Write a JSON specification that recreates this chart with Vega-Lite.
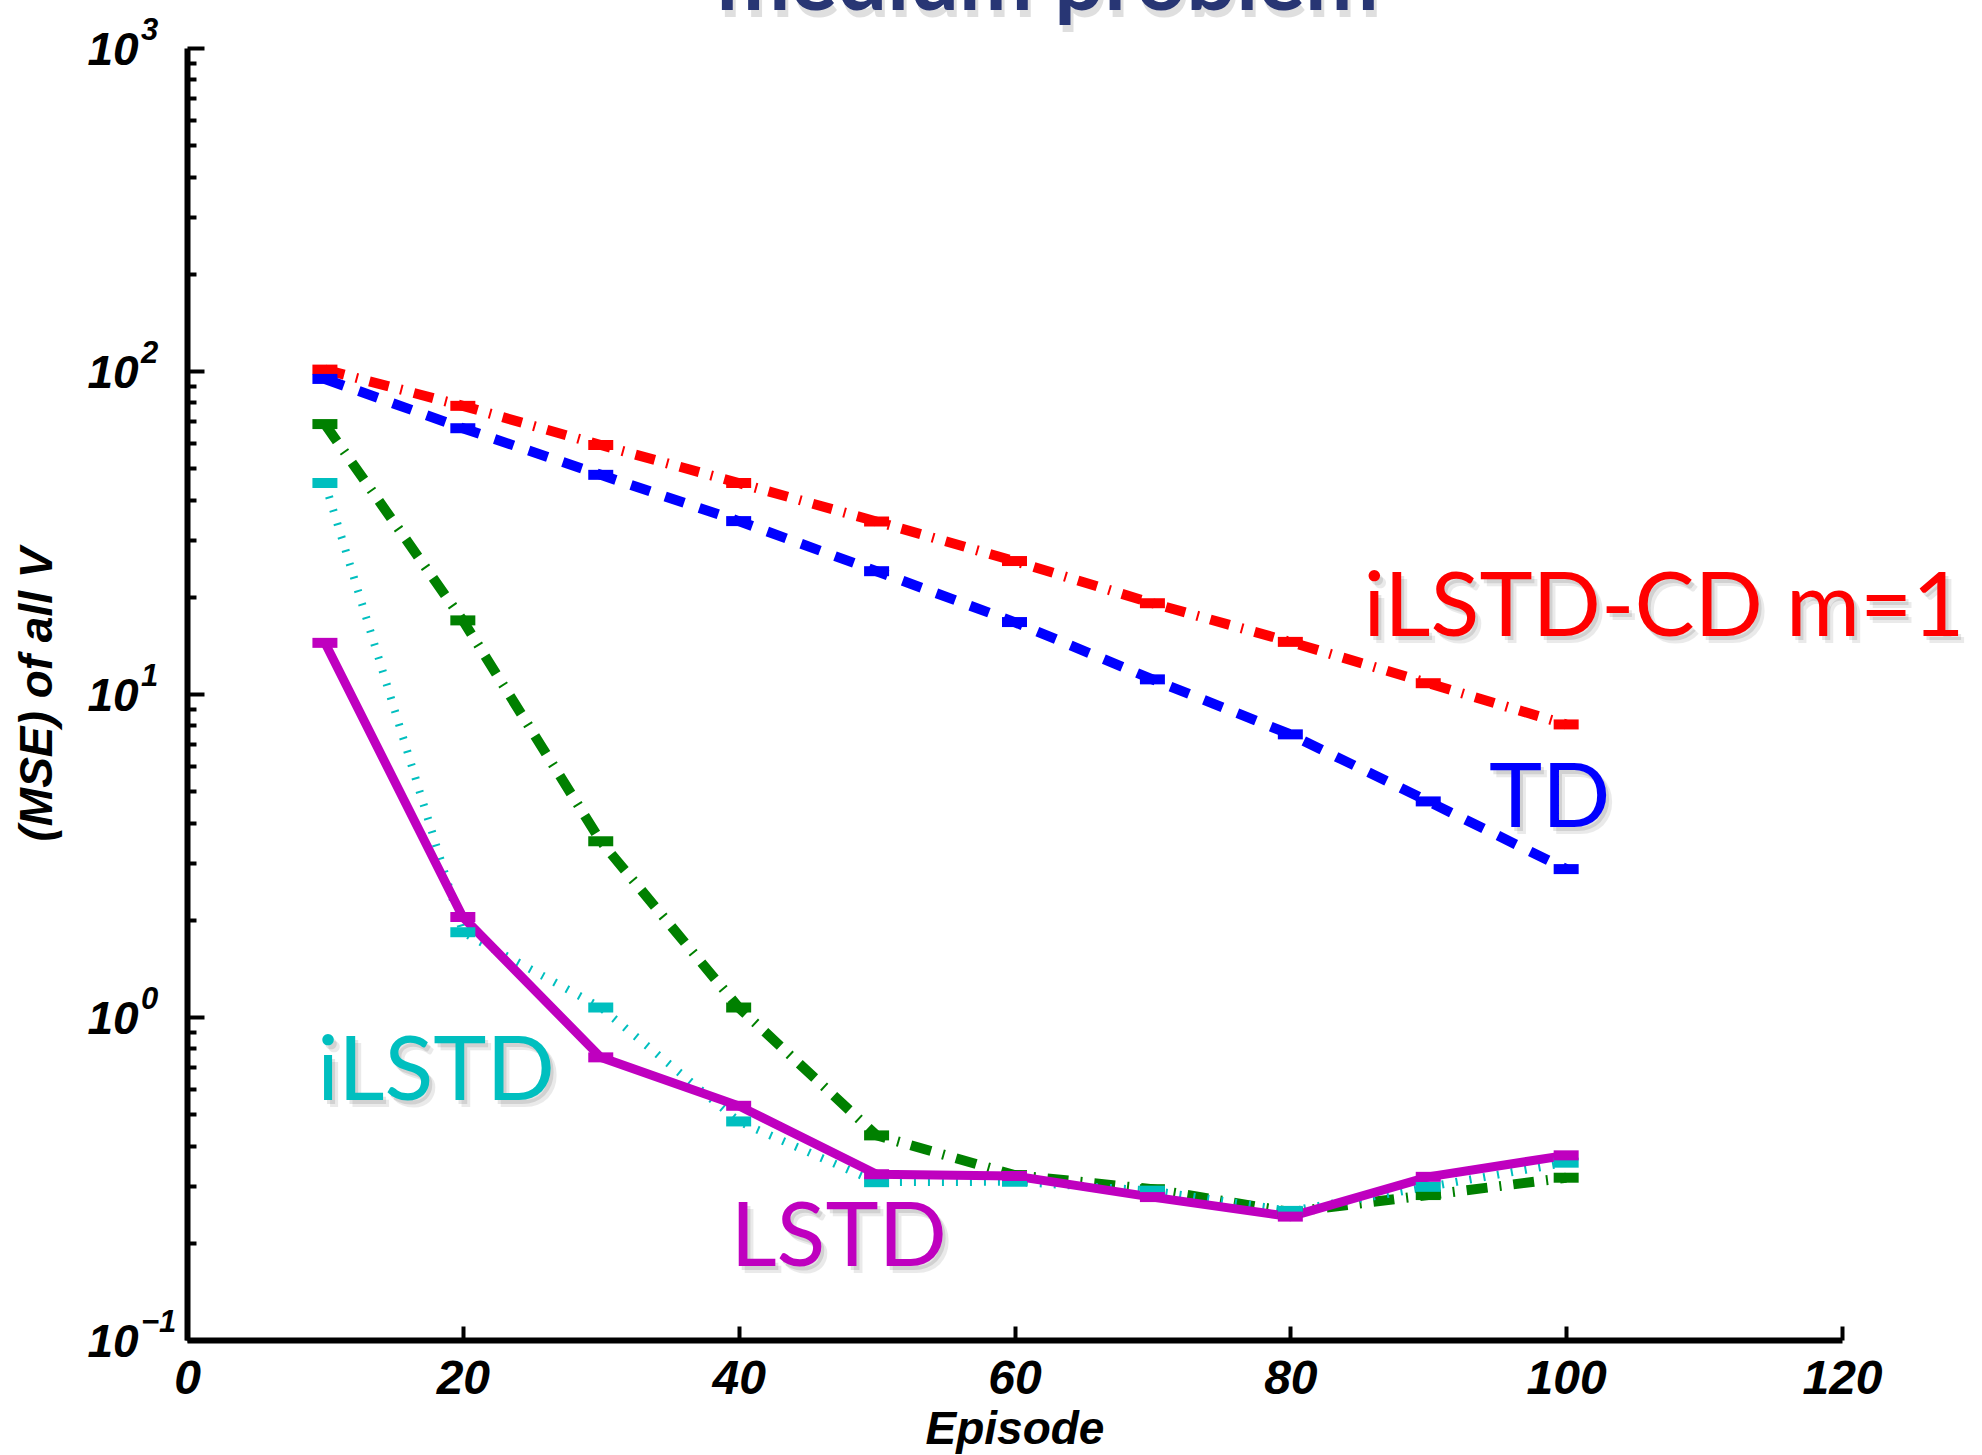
{
  "$schema": "https://vega.github.io/schema/vega-lite/v6.json",
  "width": 1655,
  "height": 1292,
  "autosize": {"type": "none"},
  "padding": {"left": 187, "top": 48, "right": 140, "bottom": 115},
  "background": "white",
  "config": {"view": {"stroke": null}},
  "datasets": {
    "series": [
      {"method": "iLSTD-CD m=1", "episode": 10, "mse": 101},
      {"method": "iLSTD-CD m=1", "episode": 20, "mse": 78},
      {"method": "iLSTD-CD m=1", "episode": 30, "mse": 59},
      {"method": "iLSTD-CD m=1", "episode": 40, "mse": 45},
      {"method": "iLSTD-CD m=1", "episode": 50, "mse": 34.2},
      {"method": "iLSTD-CD m=1", "episode": 60, "mse": 25.8},
      {"method": "iLSTD-CD m=1", "episode": 70, "mse": 19.1},
      {"method": "iLSTD-CD m=1", "episode": 80, "mse": 14.5},
      {"method": "iLSTD-CD m=1", "episode": 90, "mse": 10.8},
      {"method": "iLSTD-CD m=1", "episode": 100, "mse": 8.05},
      {"method": "TD", "episode": 10, "mse": 94.5},
      {"method": "TD", "episode": 20, "mse": 66.5},
      {"method": "TD", "episode": 30, "mse": 47.7},
      {"method": "TD", "episode": 40, "mse": 34.3},
      {"method": "TD", "episode": 50, "mse": 24.0},
      {"method": "TD", "episode": 60, "mse": 16.7},
      {"method": "TD", "episode": 70, "mse": 11.1},
      {"method": "TD", "episode": 80, "mse": 7.5},
      {"method": "TD", "episode": 90, "mse": 4.65},
      {"method": "TD", "episode": 100, "mse": 2.87},
      {"method": "unlabelled", "episode": 10, "mse": 68.5},
      {"method": "unlabelled", "episode": 20, "mse": 16.9},
      {"method": "unlabelled", "episode": 30, "mse": 3.5},
      {"method": "unlabelled", "episode": 40, "mse": 1.07},
      {"method": "unlabelled", "episode": 50, "mse": 0.43},
      {"method": "unlabelled", "episode": 60, "mse": 0.324},
      {"method": "unlabelled", "episode": 70, "mse": 0.293},
      {"method": "unlabelled", "episode": 80, "mse": 0.249},
      {"method": "unlabelled", "episode": 90, "mse": 0.281},
      {"method": "unlabelled", "episode": 100, "mse": 0.318},
      {"method": "iLSTD", "episode": 10, "mse": 45},
      {"method": "iLSTD", "episode": 20, "mse": 1.83},
      {"method": "iLSTD", "episode": 30, "mse": 1.07},
      {"method": "iLSTD", "episode": 40, "mse": 0.475},
      {"method": "iLSTD", "episode": 50, "mse": 0.308},
      {"method": "iLSTD", "episode": 60, "mse": 0.309},
      {"method": "iLSTD", "episode": 70, "mse": 0.29},
      {"method": "iLSTD", "episode": 80, "mse": 0.251},
      {"method": "iLSTD", "episode": 90, "mse": 0.298},
      {"method": "iLSTD", "episode": 100, "mse": 0.354},
      {"method": "LSTD", "episode": 10, "mse": 14.4},
      {"method": "LSTD", "episode": 20, "mse": 2.04},
      {"method": "LSTD", "episode": 30, "mse": 0.75},
      {"method": "LSTD", "episode": 40, "mse": 0.531},
      {"method": "LSTD", "episode": 50, "mse": 0.326},
      {"method": "LSTD", "episode": 60, "mse": 0.322},
      {"method": "LSTD", "episode": 70, "mse": 0.277},
      {"method": "LSTD", "episode": 80, "mse": 0.241},
      {"method": "LSTD", "episode": 90, "mse": 0.32},
      {"method": "LSTD", "episode": 100, "mse": 0.373}
    ],
    "labels": [
      {"method": "iLSTD-CD m=1", "episode": 85.3, "mse": 15.1},
      {"method": "TD", "episode": 94.4, "mse": 3.87},
      {"method": "iLSTD", "episode": 9.45, "mse": 0.553},
      {"method": "LSTD", "episode": 39.4, "mse": 0.1694}
    ],
    "heading": [
      {"episode": 62.4, "mse": 1311, "heading": "medium problem"}
    ],
    "exponents": [
      {"episode": 0, "mse": 1000, "exponent": "3"},
      {"episode": 0, "mse": 100, "exponent": "2"},
      {"episode": 0, "mse": 10, "exponent": "1"},
      {"episode": 0, "mse": 1, "exponent": "0"},
      {"episode": 0, "mse": 0.1, "exponent": "−1"}
    ]
  },
  "encoding": {
    "x": {
      "field": "episode",
      "type": "quantitative",
      "scale": {"domain": [0, 120], "nice": false, "zero": false},
      "axis": {
        "orient": "bottom",
        "values": [0, 20, 40, 60, 80, 100, 120],
        "grid": false,
        "domainColor": "black",
        "domainWidth": 6,
        "tickColor": "black",
        "tickWidth": 4,
        "tickSize": -14,
        "labelFont": "Liberation Sans",
        "labelFontSize": 48,
        "labelFontWeight": "bold",
        "labelFontStyle": "italic",
        "labelColor": "black",
        "labelPadding": 29,
        "labelFlush": false,
        "labelOverlap": false,
        "title": "Episode",
        "titleFont": "Liberation Sans",
        "titleFontSize": 46,
        "titleFontWeight": "bold",
        "titleFontStyle": "italic",
        "titleColor": "black",
        "titlePadding": 4
      }
    },
    "y": {
      "field": "mse",
      "type": "quantitative",
      "scale": {"type": "log", "domain": [0.1, 1000], "nice": false},
      "axis": {
        "orient": "left",
        "values": [0.1, 0.2, 0.3, 0.4, 0.5, 0.6, 0.7, 0.8, 0.9, 1, 2, 3, 4, 5, 6, 7, 8, 9, 10, 20, 30, 40, 50, 60, 70, 80, 90, 100, 200, 300, 400, 500, 600, 700, 800, 900, 1000],
        "grid": false,
        "domainColor": "black",
        "domainWidth": 6,
        "tickColor": "black",
        "tickWidth": 4,
        "tickSize": {
          "condition": {"test": "datum.value == 0.1 || datum.value == 1 || datum.value == 10 || datum.value == 100 || datum.value == 1000", "value": -17},
          "value": -9
        },
        "labelExpr": "datum.value == 0.1 || datum.value == 1 || datum.value == 10 || datum.value == 100 || datum.value == 1000 ? '10' : ''",
        "labelFont": "Liberation Sans",
        "labelFontSize": 46,
        "labelFontWeight": "bold",
        "labelFontStyle": "italic",
        "labelColor": "black",
        "labelAlign": "left",
        "labelBaseline": "middle",
        "labelPadding": 117,
        "labelOffset": 2,
        "labelFlush": false,
        "labelOverlap": false,
        "title": "(MSE) of all V",
        "titleFont": "Liberation Sans",
        "titleFontSize": 46,
        "titleFontWeight": "bold",
        "titleFontStyle": "italic",
        "titleColor": "black",
        "titlePadding": 18
      }
    }
  },
  "layer": [
    {
      "data": {"name": "series"},
      "transform": [{"filter": "datum.method == 'iLSTD-CD m=1'"}],
      "mark": {"type": "line", "color": "#FF0000", "strokeWidth": 10, "strokeDash": [20, 12, 2, 12], "strokeCap": "butt"}
    },
    {
      "data": {"name": "series"},
      "transform": [{"filter": "datum.method == 'TD'"}],
      "mark": {"type": "line", "color": "#0000FF", "strokeWidth": 10, "strokeDash": [20, 16], "strokeCap": "butt"}
    },
    {
      "data": {"name": "series"},
      "transform": [{"filter": "datum.method == 'unlabelled'"}],
      "mark": {"type": "line", "color": "#008000", "strokeWidth": 10, "strokeDash": [21, 12, 2, 12], "strokeCap": "butt"}
    },
    {
      "data": {"name": "series"},
      "transform": [{"filter": "datum.method == 'iLSTD'"}],
      "mark": {"type": "line", "color": "#00BFBF", "strokeWidth": 8, "strokeDash": [2, 12], "strokeCap": "butt"}
    },
    {
      "data": {"name": "series"},
      "transform": [{"filter": "datum.method == 'LSTD'"}],
      "mark": {"type": "line", "color": "#BF00BF", "strokeWidth": 9, "strokeCap": "butt"}
    },
    {
      "data": {"name": "series"},
      "mark": {"type": "point", "shape": "M-1,-0.4H1V0.4H-1Z", "size": 625, "filled": true, "opacity": 1, "strokeWidth": 0},
      "encoding": {
        "color": {
          "field": "method",
          "type": "nominal",
          "scale": {"domain": ["iLSTD-CD m=1", "TD", "unlabelled", "iLSTD", "LSTD"], "range": ["#FF0000", "#0000FF", "#008000", "#00BFBF", "#BF00BF"]},
          "legend": null
        }
      }
    },
    {
      "data": {"name": "exponents"},
      "mark": {"type": "text", "font": "Liberation Sans", "fontSize": 31, "fontWeight": "bold", "fontStyle": "italic", "align": "left", "baseline": "alphabetic", "color": "black", "dx": -46, "dy": -8},
      "encoding": {"text": {"field": "exponent"}}
    },
    {
      "data": {"name": "heading"},
      "mark": {"type": "text", "font": "Lato", "fontSize": 88, "fontWeight": "bold", "align": "center", "baseline": "alphabetic", "color": "#000000", "opacity": 0.12, "dx": 3, "dy": 7, "clip": false},
      "encoding": {"text": {"field": "heading"}}
    },
    {
      "data": {"name": "heading"},
      "mark": {"type": "text", "font": "Lato", "fontSize": 88, "fontWeight": "bold", "align": "center", "baseline": "alphabetic", "color": "#283674", "clip": false},
      "encoding": {"text": {"field": "heading"}}
    },
    {
      "data": {"name": "labels"},
      "mark": {"type": "text", "font": "Lato", "fontSize": 90, "align": "left", "baseline": "alphabetic", "color": "#000000", "opacity": 0.1, "dx": 3, "dy": 4},
      "encoding": {"text": {"field": "method"}}
    },
    {
      "data": {"name": "labels"},
      "mark": {"type": "text", "font": "Lato", "fontSize": 90, "align": "left", "baseline": "alphabetic", "color": "#000000", "opacity": 0.08, "dx": 6, "dy": 7},
      "encoding": {"text": {"field": "method"}}
    },
    {
      "data": {"name": "labels"},
      "mark": {"type": "text", "font": "Lato", "fontSize": 90, "align": "left", "baseline": "alphabetic"},
      "encoding": {
        "text": {"field": "method"},
        "color": {
          "field": "method",
          "type": "nominal",
          "scale": {"domain": ["iLSTD-CD m=1", "TD", "unlabelled", "iLSTD", "LSTD"], "range": ["#FF0000", "#1400E0", "#008000", "#00BFBF", "#BF00BF"]},
          "legend": null
        }
      }
    }
  ]
}
